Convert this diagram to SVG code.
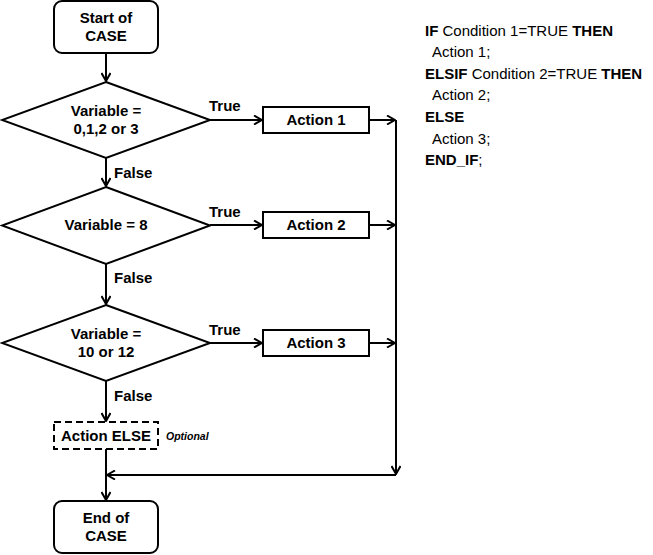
<svg xmlns="http://www.w3.org/2000/svg" width="653" height="555" viewBox="0 0 653 555">
<defs>
<marker id="arr" viewBox="0 0 10 10" refX="9" refY="5" markerWidth="10" markerHeight="10" markerUnits="userSpaceOnUse" orient="auto">
<path d="M1,0.5 L9,5 L1,9.5" fill="none" stroke="#000" stroke-width="2"/>
</marker>
<style>
.s{fill:#fff;stroke:#000;stroke-width:2}
.l{fill:none;stroke:#000;stroke-width:2}
.t{font-family:"Liberation Sans",Arial,sans-serif;font-size:15px;font-weight:bold;fill:#000}
.c{text-anchor:middle}
.n{font-family:"Liberation Sans",Arial,sans-serif;font-size:15px;fill:#000}
</style>
</defs>
<rect width="653" height="555" fill="#fff"/>
<g id="connectors">
<line class="l" x1="106" y1="53" x2="106" y2="81" marker-end="url(#arr)"/>
<line class="l" x1="106" y1="158" x2="106" y2="186" marker-end="url(#arr)"/>
<line class="l" x1="106" y1="264" x2="106" y2="304" marker-end="url(#arr)"/>
<line class="l" x1="106" y1="381" x2="106" y2="421" marker-end="url(#arr)"/>
<line class="l" x1="106" y1="449" x2="106" y2="500" marker-end="url(#arr)"/>
<line class="l" x1="210" y1="120" x2="262" y2="120" marker-end="url(#arr)"/>
<line class="l" x1="210" y1="225" x2="262" y2="225" marker-end="url(#arr)"/>
<line class="l" x1="210" y1="343" x2="262" y2="343" marker-end="url(#arr)"/>
<line class="l" x1="369" y1="120" x2="395" y2="120" marker-end="url(#arr)"/>
<line class="l" x1="369" y1="225" x2="395" y2="225" marker-end="url(#arr)"/>
<line class="l" x1="369" y1="343" x2="395" y2="343" marker-end="url(#arr)"/>
<line class="l" x1="396" y1="120" x2="396" y2="474" marker-end="url(#arr)"/>
<line class="l" x1="396" y1="475" x2="107" y2="475" marker-end="url(#arr)"/>
<text class="t" x="209" y="111">True</text>
<text class="t" x="209" y="217">True</text>
<text class="t" x="209" y="335">True</text>
<text class="t" x="114" y="178">False</text>
<text class="t" x="114" y="283">False</text>
<text class="t" x="114" y="401">False</text>
</g>
<g id="start">
<rect class="s" x="54" y="1" width="104" height="52" rx="8"/>
<text class="t c" x="106" y="23">Start of</text>
<text class="t c" x="106" y="41">CASE</text>
</g>
<g id="cond1">
<polygon class="s" points="106,82 210,120 106,158 2,120"/>
<text class="t c" x="106" y="116">Variable =</text>
<text class="t c" x="106" y="134">0,1,2 or 3</text>
</g>
<g id="cond2">
<polygon class="s" points="106,187 210,225.5 106,264 2,225.5"/>
<text class="t c" x="106" y="230">Variable = 8</text>
</g>
<g id="cond3">
<polygon class="s" points="106,305 210,343 106,381 2,343"/>
<text class="t c" x="106" y="339">Variable =</text>
<text class="t c" x="106" y="357">10 or 12</text>
</g>
<g id="action1">
<rect class="s" x="263" y="107" width="106" height="26"/>
<text class="t c" x="316" y="125">Action 1</text>
</g>
<g id="action2">
<rect class="s" x="263" y="212" width="106" height="26"/>
<text class="t c" x="316" y="230">Action 2</text>
</g>
<g id="action3">
<rect class="s" x="263" y="330" width="106" height="26"/>
<text class="t c" x="316" y="348">Action 3</text>
</g>
<g id="actionElse">
<rect class="s" x="54" y="422" width="104" height="27" stroke-dasharray="7,4"/>
<text class="t c" x="106" y="441">Action ELSE</text>
<text x="166" y="440" font-family="Liberation Sans,Arial,sans-serif" font-size="10.5" font-weight="bold" font-style="italic">Optional</text>
</g>
<g id="end">
<rect class="s" x="54" y="501" width="104" height="52" rx="8"/>
<text class="t c" x="106" y="523">End of</text>
<text class="t c" x="106" y="541">CASE</text>
</g>
<g id="code">
<text class="n" x="425" y="36"><tspan font-weight="bold">IF</tspan> Condition 1=TRUE <tspan font-weight="bold">THEN</tspan></text>
<text class="n" x="432" y="57">Action 1;</text>
<text class="n" x="425" y="79"><tspan font-weight="bold">ELSIF</tspan> Condition 2=TRUE <tspan font-weight="bold">THEN</tspan></text>
<text class="n" x="432" y="100">Action 2;</text>
<text class="n" x="425" y="122" font-weight="bold">ELSE</text>
<text class="n" x="432" y="144">Action 3;</text>
<text class="n" x="425" y="165"><tspan font-weight="bold">END_IF</tspan>;</text>
</g>
</svg>
